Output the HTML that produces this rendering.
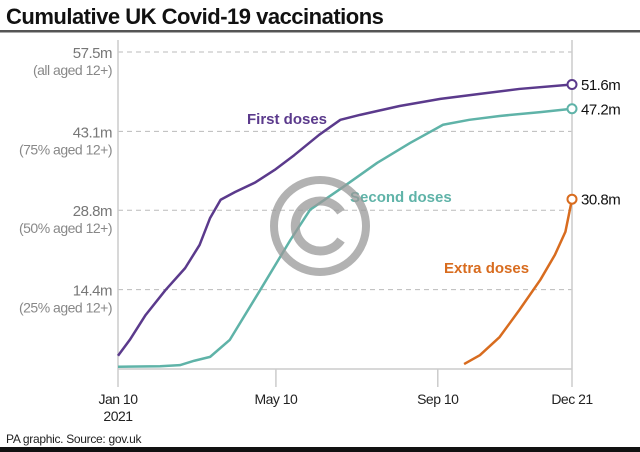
<!DOCTYPE html>
<html><head><meta charset="utf-8"><style>
body{margin:0;background:#fff;}
svg{display:block;font-family:"Liberation Sans",sans-serif;}
</style></head><body>
<svg id="chart" width="640" height="452">
<text x="6" y="24" font-size="22" font-weight="bold" fill="#111" letter-spacing="-0.5">Cumulative UK Covid-19 vaccinations</text>
<rect x="0" y="30" width="640" height="2.5" fill="#555"/>
<g id="grid"></g>
<g id="axes"></g>
<g id="series"></g>
<text x="247" y="124" font-size="15" font-weight="bold" fill="#5b3a8c">First doses</text>
<text x="350" y="202" font-size="15" font-weight="bold" fill="#5fb3a8">Second doses</text>
<text x="444" y="273" font-size="15" font-weight="bold" fill="#d86c1f">Extra doses</text>
<g id="watermark" opacity="0.75">
<circle cx="320" cy="226" r="46" fill="none" stroke="#999" stroke-width="8"/>
<path d="M341 212 A25 25 0 1 0 341 240" fill="none" stroke="#999" stroke-width="9"/>
</g>
<text x="6" y="443" font-size="12" fill="#222" letter-spacing="-0.3">PA graphic. Source: gov.uk</text>
<rect x="0" y="447" width="640" height="5" fill="#111"/>
</svg>
<script>
const yTicks=[0,14.4,28.8,43.1,57.5];
const yTickLabels=["","14.4m","28.8m","43.1m","57.5m"];
const yTickSub=["","(25% aged 12+)","(50% aged 12+)","(75% aged 12+)","(all aged 12+)"];
const xTickDays=[0,120,243,345];
const xTickLabels=["Jan 10","May 10","Sep 10","Dec 21"];
const firstDays=[0,9,21,36,51,62,70,78,89,104,119,134,153,169,184,214,245,275,305,345];
const firstVals=[2.4,5.3,9.8,14.3,18.3,22.5,27.4,30.7,32.1,33.8,36.1,38.8,42.5,45.2,46.1,47.7,49,49.9,50.8,51.6];
const secondDays=[0,32,47,58,70,85,108,131,146,171,197,222,247,267,290,321,345];
const secondVals=[0.4,0.5,0.7,1.5,2.2,5.3,14.3,23.4,28.9,33,37.4,41,44.3,45.2,45.9,46.6,47.2];
const extraDays=[263,275,290,305,321,332,340,345];
const extraVals=[0.9,2.5,5.8,10.7,16.2,20.7,24.9,30.8];
const endLabels=["51.6m","47.2m","30.8m"];

const NS="http://www.w3.org/2000/svg";
const X0=118,X1=572,Y0=369,Y1=52,DMAX=345,VMAX=57.5;
const xs=d=>X0+d/DMAX*(X1-X0);
const ys=v=>Y0-v/VMAX*(Y0-Y1);
function mk(t,a,p){const e=document.createElementNS(NS,t);for(const k in a)e.setAttribute(k,a[k]);p.appendChild(e);return e;}
const grid=document.getElementById('grid'),axes=document.getElementById('axes'),ser=document.getElementById('series');

yTicks.forEach((v,i)=>{
  if(i===0)return;
  const l=mk('line',{x1:X0,x2:X1,y1:ys(v),y2:ys(v),stroke:'#bbb','stroke-dasharray':'5,4','stroke-width':1},grid);
  
  
  const t=mk('text',{x:112,y:ys(v)+6,'text-anchor':'end','font-size':15,fill:'#777','letter-spacing':'-0.5'},axes);
  t.textContent=yTickLabels[i];
  
  
  const s=mk('text',{x:112,y:ys(v)+23,'text-anchor':'end','font-size':14,fill:'#888','letter-spacing':'-0.5'},axes);
  s.textContent=yTickSub[i];
  
  
});
let a=mk('line',{x1:X0,x2:X0,y1:40,y2:Y0,stroke:'#ccc','stroke-width':1.5},axes);


a=mk('line',{x1:X1,x2:X1,y1:40,y2:Y0,stroke:'#ccc','stroke-width':1.5},axes);


a=mk('line',{x1:X0,x2:X1,y1:Y0,y2:Y0,stroke:'#ccc','stroke-width':1.5},axes);


xTickDays.forEach((d,i)=>{
  const tk=mk('line',{x1:xs(d),x2:xs(d),y1:Y0,y2:387,stroke:'#ccc','stroke-width':1.5},axes);
  
  
  const t=mk('text',{x:xs(d),y:404,'text-anchor':'middle','font-size':14,fill:'#222','letter-spacing':'-0.5'},axes);
  t.textContent=xTickLabels[i];
  
  
});
const yr=mk('text',{x:X0,y:421,'text-anchor':'middle','font-size':14,fill:'#222','letter-spacing':'-0.5'},axes);
yr.textContent="2021";



function line(days,vals,col,name,lab){
  const p=mk('polyline',{points:days.map((d,i)=>xs(d)+','+ys(vals[i])).join(' '),fill:'none',stroke:col,'stroke-width':2.5,'stroke-linejoin':'round'},ser);
  
  
  const n=days.length-1;
  const c=mk('circle',{cx:xs(days[n]),cy:ys(vals[n]),r:4.5,fill:'#fff',stroke:col,'stroke-width':2},ser);
  
  
  const t=mk('text',{x:xs(days[n])+9,y:ys(vals[n])+5.5,'font-size':15,fill:'#111','letter-spacing':'-0.5'},ser);
  t.textContent=lab;
  
  
}
line(firstDays,firstVals,'#5b3a8c','first-doses',endLabels[0]);
line(secondDays,secondVals,'#5fb3a8','second-doses',endLabels[1]);
line(extraDays,extraVals,'#d86c1f','extra-doses',endLabels[2]);
</script>
</body></html>
